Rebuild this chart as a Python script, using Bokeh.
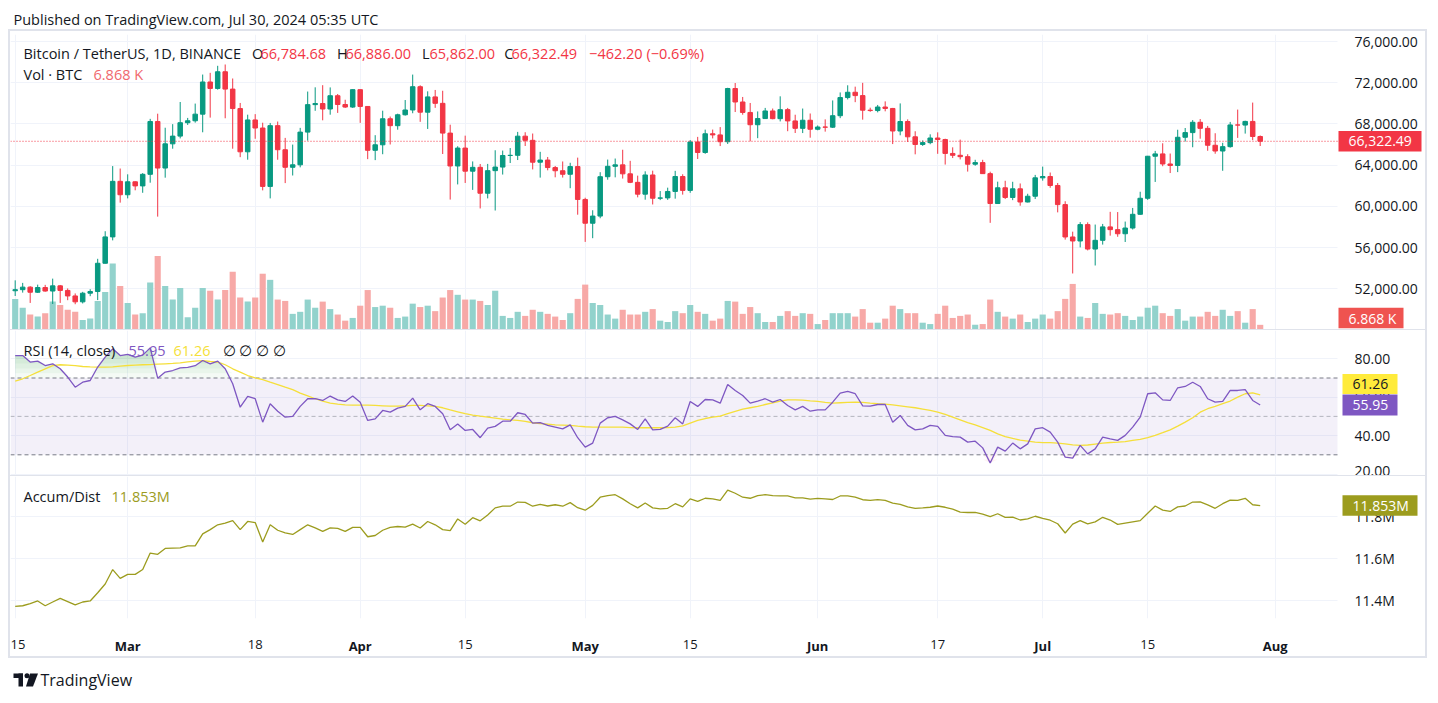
import numpy as np
import pandas as pd
from bokeh.plotting import figure
from bokeh.layouts import column, row
from bokeh.models import (Range1d, LinearAxis, FixedTicker, BoxAnnotation, Label, Spacer,
                          NumeralTickFormatter, PrintfTickFormatter, ColumnDataSource)
from bokeh.embed import file_html
from bokeh.resources import INLINE

# ---------------- data ----------------
dates = pd.date_range("2024-02-15", "2024-07-30", freq="D")

opens = [51809, 51912, 52160, 51663, 52122, 51780, 52284, 51839, 51304, 50731, 51571, 51733, 54476, 57037, 62432,
         61131, 62387, 61987, 63113, 68245, 63724, 66074, 66823, 68124, 68313, 68955, 72078, 71452, 73072, 71388, 69499,
         65300, 68393, 67609, 61937, 67840, 65501, 63796, 64037, 67211, 69880, 69988, 69455, 70745, 69892, 69645,
         71333, 69702, 65446, 65980, 68508, 67837, 68896, 69360, 71620, 69146, 70631, 70006, 67116, 63924, 65662,
         63419, 63793, 61277, 63470, 63818, 64941, 64960, 66819, 66414, 64289, 64498, 63770, 63461, 63118, 63866,
         60672, 58364, 59060, 62882, 63892, 64031, 63161, 62334, 61187, 63049, 60792, 60825, 61448, 62901, 61553,
         66256, 65231, 67051, 66940, 66278, 71446, 70137, 69122, 67929, 68526, 69265, 68518, 69394, 68297, 67578, 68364,
         67491, 67706, 67690, 68804, 70567, 71082, 70757, 69342, 69305, 69648, 69508, 67319, 68241, 66756, 66011,
         66191, 66639, 66490, 65140, 64960, 64828, 64096, 64252, 63180, 60277, 61806, 60864, 61706, 60427, 60986,
         62772, 62900, 62029, 60173, 57030, 56639, 58230, 55857, 56705, 58009, 57743, 57344, 57899, 59231, 60788,
         64870, 65097, 64118, 63974, 66711, 67164, 68166, 67577, 65936, 65376, 65800, 67907, 67896, 68249, 66784.68]

highs = [52820, 52572, 52250, 52400, 52380, 52985, 52368, 52033, 51548, 51700, 51958, 54910, 57588, 63913, 63676,
         63114, 62433, 63231, 68499, 69000, 67637, 67985, 70136, 68590, 69981, 72800, 72969, 73650, 73777, 72419, 70043,
         68904, 68956, 68124, 68100, 68240, 66650, 65999, 67624, 71150, 71561, 71769, 71552, 70913, 70355, 71366,
         71342, 69708, 66914, 69291, 68725, 69000, 70327, 72797, 71758, 71172, 71305, 71227, 67932, 65840, 66867,
         64365, 64117, 64125, 65450, 65419, 65666, 67233, 67199, 67075, 65297, 64797, 63923, 64360, 64235, 64734,
         60841, 59625, 63320, 64545, 64646, 65500, 64422, 62986, 63404, 63469, 61490, 61818, 63450, 63118, 66444,
         66748, 67451, 67459, 67700, 71515, 71979, 70625, 70041, 69220, 69562, 69500, 70687, 69560, 68900, 69500, 69020,
         67857, 68450, 70288, 71063, 71758, 71625, 71997, 69583, 69850, 70195, 69560, 69999, 68449, 67294, 66402,
         66998, 67188, 66571, 65734, 66482, 65066, 64525, 64523, 63369, 62400, 62487, 62389, 62225, 61224, 63058,
         63861, 63288, 62272, 60498, 57546, 58475, 58449, 58236, 58296, 59470, 59450, 58526, 59850, 61420, 64900,
         65388, 66128, 65133, 67442, 67610, 68379, 68480, 67813, 67102, 66175, 68200, 69399, 68318, 70079, 66886]

lows = [51300, 51625, 50625, 51600, 51715, 50521, 50625, 50891, 50500, 50575, 51280, 50901, 54450, 56700, 60364,
        60777, 61561, 61320, 62300, 59005, 62787, 65600, 66601, 67907, 68131, 67194, 68620, 71334, 68555, 65600, 64780,
        64533, 66565, 61555, 60775, 64529, 62260, 63000, 63790, 66385, 69280, 68359, 68903, 69076, 69560, 69562,
        68110, 64586, 64493, 65064, 66011, 67447, 68813, 69043, 68210, 67518, 69567, 65086, 60660, 62134, 62274,
        61600, 59800, 60775, 59600, 63090, 64210, 64500, 65864, 63589, 62794, 63500, 62824, 62800, 61765, 59191,
        56552, 56911, 58848, 62591, 62822, 62700, 62261, 60877, 60648, 60187, 60610, 60632, 60749, 61142, 61319,
        64602, 65106, 66600, 65858, 66060, 69162, 68900, 66312, 66622, 68515, 68457, 68250, 67300, 67125, 67118, 66670,
        67387, 67258, 67613, 68567, 70383, 70119, 68420, 69183, 69130, 69231, 66051, 66902, 66251, 65056, 65871,
        66034, 65104, 64060, 64693, 64559, 63379, 63943, 63170, 58402, 60260, 60712, 60606, 60063, 60383, 60712,
        62497, 61806, 59419, 56771, 53485, 56018, 55724, 54260, 56289, 57157, 57047, 56542, 57756, 59187, 60632,
        62373, 63900, 63238, 63329, 66299, 65741, 66573, 65400, 65111, 63456, 65700, 66650, 67067, 66428, 65862]

closes = [51912, 52160, 51663, 52122, 51780, 52284, 51839, 51304, 50731, 51571, 51733, 54476, 57037, 62432, 61131,
          62387, 61987, 63113, 68245, 63724, 66074, 66823, 68124, 68313, 68955, 72078, 71452, 73072, 71388, 69499, 65300,
          68393, 67609, 61937, 67840, 65501, 63796, 64037, 67211, 69880, 69988, 69455, 70745, 69892, 69645, 71333,
          69702, 65446, 65980, 68508, 67837, 68896, 69360, 71620, 69146, 70631, 70006, 67116, 63924, 65662, 63419,
          63793, 61277, 63470, 63818, 64941, 64960, 66819, 66414, 64289, 64498, 63770, 63461, 63118, 63866, 60672,
          58364, 59060, 62882, 63892, 64031, 63161, 62334, 61187, 63049, 60792, 60825, 61448, 62901, 61553, 66256,
          65231, 67051, 66940, 66278, 71446, 70137, 69122, 67929, 68526, 69265, 68518, 69394, 68297, 67578, 68364, 67491,
          67706, 67690, 68804, 70567, 71082, 70757, 69342, 69305, 69648, 69508, 67319, 68241, 66756, 66011, 66191,
          66639, 66490, 65140, 64960, 64828, 64096, 64252, 63180, 60277, 61806, 60864, 61706, 60427, 60986, 62772,
          62900, 62029, 60173, 57030, 56639, 58230, 55857, 56705, 58009, 57743, 57344, 57899, 59231, 60788, 64870,
          65097, 64118, 63974, 66711, 67164, 68166, 67577, 65936, 65376, 65800, 67907, 67896, 68249, 66784.69, 66322.49]

volume_k = [45, 32, 22, 19, 24, 41, 36, 29, 26, 14, 16, 42, 55, 97, 64,
            39, 22, 24, 69, 108, 64, 44, 61, 18, 32, 61, 57, 44, 58, 85, 47, 41, 47, 82, 73, 44, 42, 23, 26, 44, 32,
            41, 30, 22, 13, 17,
            35, 58, 33, 35, 32, 17, 19, 38, 33, 35, 27, 47, 58, 51, 44, 44, 42, 36, 57, 20, 17, 26, 20, 29, 26, 23,
            19, 14, 24, 45,
            66, 39, 36, 22, 16, 29, 22, 22, 26, 30, 13, 11, 27, 24, 36, 26, 23, 13, 16, 42, 41, 23, 33, 24, 11, 11,
            20, 27, 20, 24, 23,
            8, 14, 24, 24, 24, 19, 30, 10, 10, 16, 35, 30, 24, 24, 10, 8, 23, 35, 17, 20, 22, 7, 8, 44, 26, 19, 16,
            22, 11, 16,
            22, 16, 27, 45, 67, 19, 17, 39, 23, 22, 24, 20, 14, 19, 32, 35, 24, 20, 30, 13, 19, 19, 26, 20, 29, 20,
            27, 10, 30, 6.868]

rsi = [81.7, 81.7, 78.3, 78.8, 76.5, 77.4, 74.8, 70.5, 65.2, 67.8, 68.7, 75.7, 80.9, 85.2, 81.7,
       82.3, 80.9, 81.9, 85.7, 69.9, 73.1, 73.9, 75.3, 75.5, 76.4, 79.1, 77.4, 78.8, 74.8, 67.0, 54.8, 60.4, 59.2,
       47.0, 56.6, 52.7, 49.6, 50.0, 55.2, 59.2, 59.2, 58.3, 60.6, 58.6, 57.8, 60.6,
       57.4, 47.9, 48.7, 53.1, 52.2, 54.3, 55.2, 59.5, 53.4, 56.6, 55.2, 51.4, 43.0, 46.1, 42.7, 43.2, 38.9, 43.9,
       44.8, 47.5, 47.5, 51.9, 51.0, 46.5, 46.8, 45.3, 44.4, 43.5, 45.6, 38.9,
       34.0, 36.1, 46.5, 49.3, 50.0, 48.2, 46.1, 43.2, 48.7, 43.0, 43.2, 44.9, 49.3, 46.1, 57.8, 55.2, 58.8, 58.6,
       56.9, 66.6, 63.5, 60.9, 56.9, 58.0, 59.2, 57.4, 58.8, 55.7, 53.4, 55.2, 52.7,
       53.4, 53.4, 57.4, 62.1, 63.0, 61.8, 55.5, 55.3, 56.2, 56.2, 47.0, 50.5, 45.3, 43.0, 43.5, 45.3, 44.8, 40.1,
       39.5, 39.2, 36.6, 37.1, 33.6, 25.7, 34.0, 31.9, 36.1, 33.1, 35.7, 43.5,
       44.1, 41.8, 36.6, 28.8, 28.3, 34.9, 30.5, 33.1, 39.2, 38.3, 37.5, 40.1, 44.4, 49.6, 61.8, 62.3, 58.6, 58.3,
       64.9, 65.6, 67.8, 65.6, 59.2, 57.4, 57.8, 63.5, 63.5, 64.0, 58.3, 55.95]

rsi_ma = [68.4, 69.6, 71.3, 73.1, 74.8, 76.4, 76.9, 76.7, 76.4, 76.0, 75.8, 75.7, 75.7, 75.8, 76.2,
          76.5, 76.7, 76.9, 77.0, 77.2, 77.4, 77.6, 77.9, 78.4, 78.8, 79.0, 78.6, 78.3, 76.9, 74.8, 73.1, 71.3, 70.1,
          69.1, 67.8, 66.6, 65.2, 63.9, 62.1, 60.7, 59.2, 58.0, 56.9, 56.4, 56.0, 55.9,
          55.9, 55.9, 55.7, 55.5, 55.3, 55.3, 55.5, 55.7, 55.7, 55.5, 55.2, 54.5, 53.4, 52.4, 51.4, 50.7, 50.1, 49.6,
          49.1, 48.6, 48.2, 47.9, 47.4, 46.7, 46.3, 46.0, 45.6, 45.5, 45.3, 44.9,
          44.6, 44.4, 44.4, 44.4, 44.4, 44.4, 44.2, 44.1, 44.1, 44.1, 44.1, 44.2, 44.4, 45.1, 46.5, 47.9, 48.9, 49.6,
          50.1, 51.4, 52.6, 53.8, 54.5, 55.2, 56.2, 57.1, 58.0, 58.6, 58.6, 58.5, 58.1,
          57.8, 57.3, 56.9, 57.1, 57.3, 57.4, 57.3, 56.9, 56.6, 56.4, 56.0, 55.5, 55.0, 54.5, 53.8, 53.1, 52.2, 51.0,
          49.6, 48.2, 46.8, 45.6, 44.2, 42.7, 40.9, 39.5, 38.5, 37.6, 37.1, 36.6,
          36.3, 36.3, 36.1, 35.7, 35.2, 34.9, 35.1, 35.6, 36.1, 36.4, 36.6, 36.9, 37.5, 38.0, 38.9, 40.1, 41.5, 43.0,
          44.9, 47.0, 49.3, 52.2, 54.0, 55.2, 56.6, 58.0, 60.0, 61.8, 62.3, 61.26]

ad_m = [11.371, 11.374, 11.384, 11.397, 11.374, 11.392, 11.409, 11.394, 11.378, 11.392, 11.397, 11.436, 11.478,
        11.547, 11.505,
        11.524, 11.524, 11.547, 11.626, 11.620, 11.648, 11.650, 11.651, 11.660, 11.660, 11.718, 11.738, 11.761,
        11.769, 11.781, 11.738, 11.777, 11.772, 11.679, 11.761, 11.735, 11.722, 11.715, 11.738, 11.761, 11.746,
        11.730, 11.746, 11.744, 11.730, 11.749,
        11.749, 11.704, 11.710, 11.735, 11.749, 11.753, 11.750, 11.764, 11.746, 11.777, 11.761, 11.738, 11.733,
        11.789, 11.764, 11.795, 11.780, 11.808, 11.842, 11.850, 11.850, 11.870, 11.868, 11.850, 11.859, 11.851,
        11.857, 11.850, 11.867, 11.843,
        11.831, 11.854, 11.893, 11.901, 11.905, 11.885, 11.862, 11.842, 11.865, 11.842, 11.837, 11.840, 11.862,
        11.847, 11.885, 11.873, 11.888, 11.885, 11.878, 11.927, 11.912, 11.893, 11.888, 11.901, 11.905, 11.901,
        11.899, 11.899, 11.890, 11.890, 11.884,
        11.887, 11.885, 11.882, 11.899, 11.899, 11.893, 11.881, 11.878, 11.882, 11.878, 11.865, 11.859, 11.847,
        11.840, 11.842, 11.845, 11.851, 11.845, 11.836, 11.822, 11.820, 11.820, 11.812, 11.800, 11.814, 11.797,
        11.798, 11.784, 11.789, 11.802,
        11.792, 11.783, 11.766, 11.722, 11.764, 11.781, 11.766, 11.775, 11.797, 11.784, 11.763, 11.769, 11.775,
        11.781, 11.816, 11.851, 11.831, 11.825, 11.847, 11.851, 11.870, 11.871, 11.856, 11.840, 11.862, 11.879,
        11.878, 11.888, 11.857, 11.853]

tick_dates = ["2024-02-15", "2024-03-01", "2024-03-18", "2024-04-01", "2024-04-15", "2024-05-01",
              "2024-05-15", "2024-06-01", "2024-06-17", "2024-07-01", "2024-07-15", "2024-08-01"]
tick_labels = ["15", "Mar", "18", "Apr", "15", "May", "15", "Jun", "17", "Jul", "15", "Aug"]
price_ticks = [52000, 56000, 60000, 64000, 68000, 72000, 76000]
rsi_ticks = [20, 40, 60, 80]
ad_ticks = [11.4, 11.6, 11.8]

# ---------------- style ----------------
FONT = "Open Sans"
TEXT = "#131722"
GRID = "#f0f3fa"
UP, DOWN = "#089981", "#f23645"
UP_VOL, DOWN_VOL = "#92d2cc", "#f7a9a7"
RSI_C, MA_C, AD_C = "#7e57c2", "#f5df3a", "#9c9c1e"
BORDER = "#e0e3eb"
LEG = "14.5px"

# pixel geometry helpers (page pixel -> data)
X0_PX, DAY_PX = 14.7, 7.5
def px_x(px): return (px - X0_PX) / DAY_PX
def px_price(py): return 72000 - (py - 82.3) * 97.1
def px_rsi(py): return 80 - (py - 358.3) / 1.92
def px_ad(py): return 11.8 - (py - 518.3) / 215.0
PRICE_PER_PX, RSI_PER_PX, AD_PER_PX, VOL_PER_PX = 97.1, 1 / 1.92, 1 / 215.0, 1.47
AXIS_X = px_x(1337)      # left edge of the price-scale column

x = np.asarray((dates - dates[0]).days, dtype=float)
tick_x = [int((pd.Timestamp(d) - dates[0]).days) for d in tick_dates]
o = np.asarray(opens, float); c = np.asarray(closes, float)
up = c >= o

W = 1415
xr = Range1d(px_x(10), px_x(1425))


def make_fig(h, yr, ticks, fmt, top=0, bottom=0, styles=None):
    kw = {}
    if styles:
        kw["styles"] = styles
    p = figure(width=W, height=h, x_range=xr, y_range=yr, output_backend="svg", toolbar_location=None,
               x_axis_location=None, y_axis_location="right", min_border_left=0, min_border_right=0,
               min_border_top=top, min_border_bottom=bottom, outline_line_color=None,
               background_fill_color="white", border_fill_color="white", **kw)
    p.xgrid.ticker = FixedTicker(ticks=tick_x)
    p.ygrid.ticker = FixedTicker(ticks=ticks)
    p.grid.grid_line_color = GRID
    # white cover so grid lines stop at the price-scale column
    p.add_layout(BoxAnnotation(left=AXIS_X, fill_color="white", fill_alpha=1.0, line_color=None,
                               level="underlay"))
    ax = p.yaxis[0]
    ax.fixed_location = AXIS_X
    ax.ticker = FixedTicker(ticks=ticks)
    ax.formatter = fmt
    ax.axis_line_color = None
    ax.major_tick_line_color = None
    ax.minor_tick_line_color = None
    ax.major_label_standoff = 11
    ax.major_label_text_font = FONT
    ax.major_label_text_font_size = "14px"
    ax.major_label_text_color = TEXT
    return p


def lab(p, px, y, text, color=TEXT, size=LEG, **kw):
    p.add_layout(Label(x=px_x(px), y=y, text=text, text_color=color, text_font=FONT,
                       text_font_size=size, text_baseline="middle", text_align="left", **kw))


def value_box(p, yc, half, text, bg, fg="white", px_left=1338, px_right=1421, px_text=1348,
              range_name="default"):
    p.add_layout(BoxAnnotation(left=px_x(px_left), right=px_x(px_right), bottom=yc - half, top=yc + half,
                               fill_color=bg, fill_alpha=1.0, line_color=None, y_range_name=range_name))
    p.add_layout(Label(x=px_x(px_text), y=yc, text=text, text_color=fg, text_font=FONT,
                       text_font_size="14px", text_baseline="middle", text_align="left",
                       y_range_name=range_name))


def hline(p, y, **kw):
    p.segment(x0=[px_x(10)], x1=[AXIS_X], y0=[y], y1=[y], **kw)

# ---------------- price + volume ----------------
# canvas starts 3px above the frame so the top price label is not cut
p1 = make_fig(298, Range1d(px_price(329), px_price(34)), price_ticks, NumeralTickFormatter(format="0,0.00"),
              top=3)
p1.extra_y_ranges = {"vol": Range1d(0, 295 * VOL_PER_PX)}

src = ColumnDataSource(dict(
    x=x, o=o, h=highs, l=lows, c=c,
    top=np.maximum(o, c), bot=np.minimum(o, c),
    color=[UP if u else DOWN for u in up],
    vcolor=[UP_VOL if u else DOWN_VOL for u in up],
    vol=volume_k))

p1.vbar(x="x", top="vol", bottom=0, width=0.82, fill_color="vcolor", line_color=None,
        y_range_name="vol", source=src)
p1.segment(x0="x", y0="l", x1="x", y1="h", line_color="color", line_width=1, source=src)
p1.vbar(x="x", top="top", bottom="bot", width=0.6, fill_color="color", line_color="color",
        line_width=1, source=src)
hline(p1, closes[-1], line_color=DOWN, line_width=1, line_dash="1 2")

y1 = px_price(53.3)
lab(p1, 23, y1, "Bitcoin / TetherUS, 1D, BINANCE")
for px_l, px_v, letter, val in [(251.6, 260, "O", opens[-1]), (336.5, 345, "H", highs[-1]),
                                (421.5, 429, "L", lows[-1]), (503.7, 511, "C", closes[-1])]:
    lab(p1, px_l, y1, letter)
    lab(p1, px_v, y1, f"{val:,.2f}", color=DOWN)
chg = closes[-1] - closes[-2]
pct = chg / closes[-2] * 100
lab(p1, 588.6, y1, f"{chg:,.2f} ({pct:.2f}%)".replace("-", "\u2212"), color=DOWN)
y2 = px_price(74)
lab(p1, 23, y2, "Vol \u00b7 BTC")
lab(p1, 93, y2, f"{volume_k[-1]:.3f} K", color="#f0686e")

value_box(p1, closes[-1], 10.2 * PRICE_PER_PX, f"{closes[-1]:,.2f}", DOWN)
value_box(p1, 11.5 * VOL_PER_PX, 10.2 * VOL_PER_PX, f"{volume_k[-1]:.3f} K", "#ef5350",
          px_right=1403, range_name="vol")

# ---------------- RSI ----------------
p2 = make_fig(146, Range1d(px_rsi(476), px_rsi(330)), rsi_ticks, PrintfTickFormatter(format="%.2f"),
              styles={"border-top": f"1px solid {BORDER}"})
p2.add_layout(BoxAnnotation(bottom=30, top=70, right=AXIS_X, fill_color=RSI_C, fill_alpha=0.09,
                            line_color=None, level="underlay"))
rs = np.asarray(rsi, float)
for lvl in np.arange(70, 90, 2.5):
    p2.varea(x=x, y1=np.full(len(x), lvl), y2=np.maximum(rs, lvl), fill_color="#4caf50", fill_alpha=0.06)
for lvl in np.arange(30, 20, -2.5):
    p2.varea(x=x, y1=np.minimum(rs, lvl), y2=np.full(len(x), lvl), fill_color="#f23645", fill_alpha=0.06)
for lv, a in [(70, 1.0), (50, 0.5), (30, 1.0)]:
    hline(p2, lv, line_color="#787b86", line_alpha=a, line_width=1, line_dash="4 3")
p2.line(x, rsi_ma, line_color=MA_C, line_width=1.3)
p2.line(x, rsi, line_color=RSI_C, line_width=1.3)

yr = px_rsi(350)
lab(p2, 23, yr, "RSI (14, close)")
lab(p2, 128, yr, f"{rsi[-1]:.2f}", color=RSI_C)
lab(p2, 173, yr, f"{rsi_ma[-1]:.2f}", color=MA_C)
lab(p2, 222, yr, "\u2205  \u2205  \u2205  \u2205")
value_box(p2, rsi[-1], 10.5 * RSI_PER_PX, f"{rsi[-1]:.2f}", RSI_C,
          px_left=1342, px_right=1397, px_text=1352)
value_box(p2, rsi[-1] + 21 * RSI_PER_PX, 10 * RSI_PER_PX, f"{rsi_ma[-1]:.2f}", "#ffeb3b", fg=TEXT,
          px_left=1342, px_right=1397, px_text=1352)

# ---------------- Accum/Dist ----------------
p3 = make_fig(181, Range1d(px_ad(623), px_ad(477)), ad_ticks, PrintfTickFormatter(format="%.1fM"),
              bottom=35, styles={"border-top": f"1px solid {BORDER}"})
p3.line(x, ad_m, line_color=AD_C, line_width=1.3)
ya = px_ad(497.7)
lab(p3, 23, ya, "Accum/Dist")
lab(p3, 111, ya, f"{ad_m[-1]:.3f}M", color=AD_C)
value_box(p3, ad_m[-1], 10.5 * AD_PER_PX, f"{ad_m[-1]:.3f}M", AD_C,
          px_left=1342, px_right=1417, px_text=1352)

month_t = [t for t, l in zip(tick_x, tick_labels) if not l.isdigit()]
month_l = {t: l for t, l in zip(tick_x, tick_labels) if not l.isdigit()}
day_t = [t for t, l in zip(tick_x, tick_labels) if l.isdigit()]
day_l = {t: l for t, l in zip(tick_x, tick_labels) if l.isdigit()}
for ticks, labels, style, standoff in [(month_t, month_l, "bold", 12), (day_t, day_l, "normal", -24)]:
    ax = LinearAxis(ticker=FixedTicker(ticks=ticks), major_label_overrides=labels)
    ax.axis_line_color = None
    ax.major_tick_line_color = None
    ax.minor_tick_line_color = None
    ax.major_label_standoff = standoff
    ax.major_label_text_font = FONT
    ax.major_label_text_font_size = "13px"
    ax.major_label_text_font_style = style
    ax.major_label_text_color = TEXT
    p3.add_layout(ax, "below")

# ---------------- header / footer ----------------
def blank(h):
    p = figure(width=W + 4, height=h, x_range=Range1d(0, W + 4), y_range=Range1d(0, h),
               output_backend="svg", toolbar_location=None, x_axis_location=None, y_axis_location=None,
               min_border=0, outline_line_color=None, background_fill_color="white",
               border_fill_color="white")
    p.grid.visible = False
    return p

head = blank(21)
head.add_layout(Label(x=5, y=10, text="Published on TradingView.com, Jul 30, 2024 05:35 UTC",
                      text_color=TEXT, text_font=FONT, text_font_size=LEG, text_baseline="middle"))

foot = blank(32)
foot.quad(left=5, right=14.5, top=17, bottom=12.5, fill_color=TEXT, line_color=None)
foot.quad(left=10, right=14.5, top=17, bottom=4, fill_color=TEXT, line_color=None)
foot.scatter(x=[18.5], y=[14.8], size=5, marker="circle", fill_color=TEXT, line_color=None)
foot.patch(x=[21.5, 29.5, 24.5, 17.5], y=[17, 17, 4, 4], fill_color=TEXT, line_color=None)
foot.add_layout(Label(x=32, y=11, text="TradingView", text_color=TEXT, text_font=FONT,
                      text_font_size="16px", text_baseline="middle"))

panel = column(p1, p2, p3, styles={"border": f"2px solid {BORDER}"})
page = row(Spacer(width=8), column(Spacer(height=8), head, panel, foot))

open("out.html", "w").write(file_html(page, INLINE, title="BTCUSDT"))
